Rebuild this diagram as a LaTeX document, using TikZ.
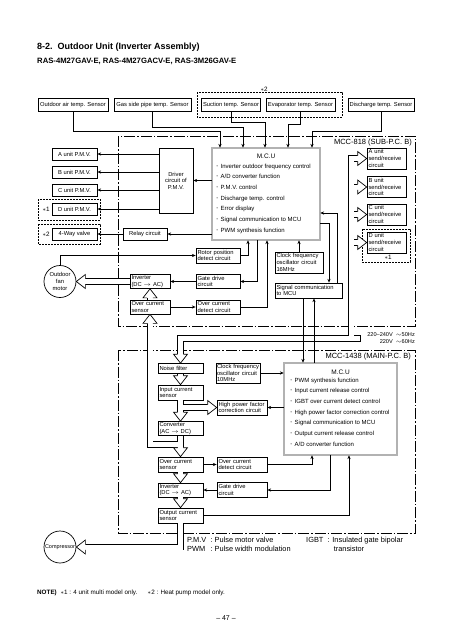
\documentclass[tikz,border=0pt]{standalone}
\usepackage{fontspec}
\setmainfont{Liberation Sans}
\usepackage{tikz}
\usetikzlibrary{arrows.meta,positioning}

\newcommand{\txtbox}{\fontsize{5.8}{6.6}\selectfont\hyphenpenalty=10000}
\newcommand{\txtmcu}{\fontsize{6.5}{7}\selectfont}
\newcommand{\txtlist}{\fontsize{6}{10.67}\selectfont}
\newcommand{\txtpcb}{\fontsize{7.5}{8}\selectfont}
\newcommand{\txtvolt}{\fontsize{5.6}{7.6}\selectfont}
\newcommand{\txtlegend}{\fontsize{7.4}{9}\selectfont}
\newcommand{\txtnote}{\fontsize{6.3}{7}\selectfont}
\newcommand{\blt}{\raisebox{0.8pt}{\fontsize{3.5}{4}\selectfont\textbullet}\hspace{2.8pt}}

\tikzset{
  blk/.style={draw, line width=0.7pt, inner xsep=1.5pt, inner ysep=0.5pt, font=\txtbox},
  cbox/.style={blk, align=center},
  lbox/.style={blk, align=left},
  sensor/.style={cbox, minimum height=13pt},
  pmv/.style={cbox, minimum width=45pt, minimum height=12pt},
  mcu/.style={draw, line width=0.6pt, double=gray!60, double distance=1.4pt, inner sep=0pt},
  wire/.style={line width=0.7pt, -{Stealth[length=3.8pt,width=3.2pt]}},
  line/.style={line width=0.7pt},
  bus/.style={line width=0.7pt, double=white, double distance=5pt, line join=miter},
  grp/.style={line width=0.6pt, dash pattern=on 1.8pt off 1.2pt},
  pcb/.style={line width=0.7pt, dash pattern=on 11pt off 2pt on 1.5pt off 2pt},
  hollowhead/.pic={\draw[line width=0.7pt, fill=white] (-9,2.85) -- (-9,7) -- (0,0) -- (-9,-7) -- (-9,-2.85);}
}

\begin{document}
\begin{tikzpicture}[x=1pt,y=-1pt]
\useasboundingbox (0,0) rectangle (452,640);

% heading
\node[anchor=west, inner sep=0pt, font=\fontsize{9}{10}\selectfont\bfseries] (head) at (37,47) {8-2.\ \ Outdoor Unit (Inverter Assembly)};
\node[anchor=west, inner sep=0pt, font=\fontsize{7.7}{9}\selectfont\bfseries] (models) at (37,61) {RAS-4M27GAV-E, RAS-4M27GACV-E, RAS-3M26GAV-E};

% sensors
\node[sensor, minimum width=70pt] (oat) at (73,105) {Outdoor air temp. Sensor};
\node[sensor, minimum width=77pt] (gas) at (152.5,105) {Gas side pipe temp. Sensor};
\node[sensor, minimum width=58pt] (suc) at (231,105) {Suction temp. Sensor};
\node[sensor, minimum width=69pt] (eva) at (300.5,105) {Evaporator temp. Sensor};
\node[sensor, minimum width=66pt] (dis) at (381,105) {Discharge temp. Sensor};
\draw[grp] (197,92) rectangle (342,117);
\node[above, inner sep=0.5pt, font=\txtnote] (hp0) at (264,92) {$\ast$2};

% boards
\draw[pcb] (118,136) rectangle (415,326);
\draw[pcb] (118,350) rectangle (415,533);
\node[anchor=east, inner sep=0pt, font=\txtpcb] (sublbl) at (412,143) {MCC-818 (SUB-P.C. B)};
\node[anchor=east, inner sep=0pt, font=\txtpcb] (mainlbl) at (411,356.5) {MCC-1438 (MAIN-P.C. B)};
\node[anchor=east, inner sep=0pt, align=right, font=\txtvolt] (volt) at (415,338) {220--240V\ \ $\sim$50Hz\\220V\ \ $\sim$60Hz};

% sub p.c. board
\node[pmv] (pmvA) at (74.5,154) {A unit P.M.V.};
\node[pmv] (pmvB) at (74.5,172) {B unit P.M.V.};
\node[pmv] (pmvC) at (74.5,190) {C unit P.M.V.};
\node[pmv] (pmvD) at (74.5,209) {D unit P.M.V.};
\node[pmv] (fourway) at (74.5,234) {4-Way valve};
\draw[grp] (38,199) rectangle (100,220);
\draw[grp] (38,224) rectangle (100,244);
\node[font=\txtnote] (pm1) at (46,209.5) {$\ast$1};
\node[font=\txtnote] (hp1) at (46,234) {$\ast$2};

\node[cbox, minimum width=34pt, minimum height=65pt] (driver) at (176,180.5) {Driver\\circuit of\\P.M.V.};
\node[cbox, minimum width=44pt, minimum height=12pt] (relay) at (145,234) {Relay circuit};

\node[mcu, minimum width=108pt, minimum height=92pt] (mcu1) at (266,194) {};
\node[font=\txtmcu] (mcu1t) at ([yshift=-9pt]mcu1.north) {M.C.U};
\node[anchor=north west, inner sep=0pt, align=left, font=\txtlist] (mcu1l) at (216.5,163.5) {\blt Inverter outdoor frequency control\\\blt A/D converter function\\\blt P.M.V. control\\\blt Discharge temp. control\\\blt Error display\\\blt Signal communication to MCU\\\blt PWM synthesis function};

\node[draw, circle, line width=0.7pt, minimum size=32pt, inner sep=0pt, align=center, font=\txtbox] (fan) at (60,281.5) {Outdoor\\fan\\motor};
\node[lbox, text width=41pt, minimum height=15pt] (rotor) at (218,255.5) {Rotor position\\detect circuit};
\node[lbox, text width=37pt, minimum height=14pt] (inv1) at (150,281.5) {Inverter\\(DC $\rightarrow$ AC)};
\node[lbox, text width=41pt, minimum height=14pt] (gate1) at (218,281.5) {Gate drive\\circuit};
\node[lbox, text width=37pt, minimum height=14pt] (ocs1) at (150,307) {Over current\\sensor};
\node[lbox, text width=41pt, minimum height=14pt] (ocd1) at (218,307) {Over current\\detect circuit};
\node[lbox, text width=45pt, minimum height=21pt] (clk1) at (299,262.5) {Clock frequency\\oscillator circuit\\16MHz};
\node[lbox, text width=64pt, minimum height=15pt] (sig1) at (308.5,290.5) {Signal communication\\to MCU};

\node[lbox, text width=36pt, minimum height=21pt] (srA) at (386.5,158.5) {A unit\\send/receive\\circuit};
\node[lbox, text width=36pt, minimum height=21pt] (srB) at (386.5,187) {B unit\\send/receive\\circuit};
\node[lbox, text width=36pt, minimum height=21pt] (srC) at (386.5,214.5) {C unit\\send/receive\\circuit};
\node[lbox, text width=36pt, minimum height=21pt] (srD) at (386.5,242.5) {D unit\\send/receive\\circuit};
\draw[grp] (362,229) rectangle (410,262);
\node[font=\txtnote] (pm2) at (388,257.5) {$\ast$1};

% main p.c. board
\node[lbox, text width=42pt, minimum height=10pt] (nf) at (180.5,368.5) {Noise filter};
\node[lbox, text width=42pt, minimum height=15pt] (ics) at (180.5,392.5) {Input current\\sensor};
\node[lbox, text width=42pt, minimum height=14pt] (conv) at (180.5,428.5) {Converter\\(AC $\rightarrow$ DC)};
\node[lbox, text width=42pt, minimum height=15pt] (ocs2) at (180.5,464.5) {Over current\\sensor};
\node[lbox, text width=42pt, minimum height=14pt] (inv2) at (180.5,490) {Inverter\\(DC $\rightarrow$ AC)};
\node[lbox, text width=42pt, minimum height=15pt] (outs) at (180.5,515.5) {Output current\\sensor};
\node[lbox, text width=43pt, inner xsep=0.5pt, minimum height=20pt] (clk2) at (238.5,373) {Clock frequency\\oscillator circuit\\10MHz};
\node[lbox, text width=47pt, minimum height=15pt] (hpfc) at (242,407.5) {High power factor\\correction circuit};
\node[lbox, text width=47pt, minimum height=15pt] (ocd2) at (242,464.5) {Over current\\detect circuit};
\node[lbox, text width=47pt, minimum height=15pt] (gate2) at (242,490) {Gate drive\\circuit};

\node[mcu, minimum width=113pt, minimum height=92pt] (mcu2) at (340.5,409) {};
\node[font=\txtmcu] (mcu2t) at ([yshift=-9.5pt]mcu2.north) {M.C.U};
\node[anchor=north west, inner sep=0pt, align=left, font=\txtlist] (mcu2l) at (290.5,377.5) {\blt PWM synthesis function\\\blt Input current release control\\\blt IGBT over current detect control\\\blt High power factor correction control\\\blt Signal communication to MCU\\\blt Output current release control\\\blt A/D converter function};

\node[draw, circle, line width=0.7pt, minimum size=32pt, inner sep=0pt, font=\fontsize{5.5}{6}\selectfont] (comp) at (60,547) {Compressor};

% power lines
\coordinate (acin) at (360,338.5);
\coordinate (srbus) at (351,338.5);
\draw[bus] (acin) -- (nf.north |- acin) -- ([yshift=9pt]nf.north)
  (srbus) -- (srbus |- srA) -- ([xshift=-9pt]srA.west)
  (srbus |- srB) -- ([xshift=-9pt]srB.west)
  (srbus |- srC) -- ([xshift=-9pt]srC.west)
  (srbus |- srD) -- ([xshift=-9pt]srD.west)
  (nf.south) -- ([yshift=9pt]ics.north)
  (ics.south) -- ([yshift=9pt]conv.north)
  (ics.south |- hpfc) -- ([xshift=-9pt]hpfc.west)
  (conv.south) -- ([yshift=9pt]ocs2.north)
  ([yshift=-8.5pt]conv.south) -| ([yshift=-9pt]ocs1.south)
  (ocs1.north) -- ([yshift=-9pt]inv1.south)
  (inv1.west) -- ([xshift=9pt]fan.east)
  (ocs2.south) -- ([yshift=9pt]inv2.north)
  (inv2.south) -- ([yshift=9pt]outs.north)
  (outs.south) |- ([xshift=9pt]comp.east);
\draw[line] ([yshift=3.2pt]acin) -- ([yshift=-3.2pt]acin);
\pic at (srA.west) {hollowhead};
\pic at (srB.west) {hollowhead};
\pic at (srC.west) {hollowhead};
\pic at (srD.west) {hollowhead};
\pic at (hpfc.west) {hollowhead};
\pic[rotate=-90] at (nf.north) {hollowhead};
\pic[rotate=-90] at (ics.north) {hollowhead};
\pic[rotate=-90] at (conv.north) {hollowhead};
\pic[rotate=-90] at (ocs2.north) {hollowhead};
\pic[rotate=-90] at (inv2.north) {hollowhead};
\pic[rotate=-90] at (outs.north) {hollowhead};
\pic[rotate=90] at (ocs1.south) {hollowhead};
\pic[rotate=90] at (inv1.south) {hollowhead};
\pic[rotate=180] at (fan.east) {hollowhead};
\pic[rotate=180] at (comp.east) {hollowhead};

% sensor inputs
\draw[wire] (oat.south) -- ++(0,19) -| ([xshift=-46pt]mcu1.north);
\draw[wire] (gas.south) -- ++(0,15.5) -| ([xshift=-23pt]mcu1.north);
\draw[wire] (suc.south) -- ++(0,10.5) -| ([xshift=-1pt]mcu1.north);
\draw[wire] (eva.south) -- ++(0,12.5) -| ([xshift=22pt]mcu1.north);
\draw[wire] (dis.south) -- ++(0,19.5) -| ([xshift=46pt]mcu1.north);

% sub board signals
\draw[wire] (driver.west |- pmvA) -- (pmvA.east);
\draw[wire] (driver.west |- pmvB) -- (pmvB.east);
\draw[wire] (driver.west |- pmvC) -- (pmvC.east);
\draw[wire] (driver.west |- pmvD) -- (pmvD.east);
\draw[wire] (mcu1.west |- driver) -- (driver.east);
\draw[wire] (mcu1.west |- relay) -- (relay.east);
\draw[wire] (relay.west) -- (fourway.east);
\draw[wire] (fan.north) |- (rotor.west);
\draw[wire] (rotor.east) -| ([xshift=-18pt]mcu1.south);
\draw[wire] ([xshift=-9pt]mcu1.south) |- (gate1.east);
\draw[wire] (gate1.west) -- (inv1.east);
\draw[wire] (ocs1.east) -- (ocd1.west);
\draw[wire] (ocd1.east) -| ([xshift=1pt]mcu1.south);
\draw[wire] (clk1.north) -- (clk1.north |- mcu1.south);
\draw[wire] ([yshift=-29pt]mcu1.east) -| ([xshift=20.5pt]sig1.north);
\draw[wire] ([xshift=28.5pt]sig1.north) |- ([yshift=-19pt]mcu1.east);
\draw[wire] ([xshift=-5.5pt]sig1.south) -- ([xshift=-5.5pt]sig1.south |- mcu2.north);
\draw[wire] ([xshift=5.5pt]sig1.south |- mcu2.north) -- ([xshift=5.5pt]sig1.south);

% main board signals
\draw[wire] (clk2.east) -- (clk2.east -| mcu2.west);
\draw[wire] (mcu2.west |- hpfc) -- (hpfc.east);
\draw[wire] (ocs2.east) -- (ocd2.west);
\draw[wire] (ocd2.east) -| ([xshift=-28.5pt]mcu2.south);
\draw[wire] ([xshift=-10.5pt]mcu2.south) |- (gate2.east);
\draw[wire] (gate2.west) -- (inv2.east);
\draw[wire] (outs.east) -| ([xshift=8.5pt]mcu2.south);

% legend and notes
\node[anchor=north west, inner sep=0pt, font=\txtlegend] (abbr) at (187,536) {\begin{tabular}{@{}l@{\ \ :\ }l@{}}P.M.V & Pulse motor valve\\PWM & Pulse width modulation\end{tabular}};
\node[anchor=north west, inner sep=0pt, font=\txtlegend] (igbt) at (306,536) {\begin{tabular}{@{}l@{\ \ }l@{}}IGBT & : Insulated gate bipolar\\ & \ \ \ transistor\end{tabular}};
\node[anchor=west, inner sep=0pt, font=\txtnote] (note) at (37,593) {\textbf{NOTE)}\ \ $\ast$1 : 4 unit multi model only.\hspace{10pt}$\ast$2 : Heat pump model only.};
\node[font=\fontsize{7}{8}\selectfont] (pg) at (226,618) {-- 47 --};
\end{tikzpicture}
\end{document}
